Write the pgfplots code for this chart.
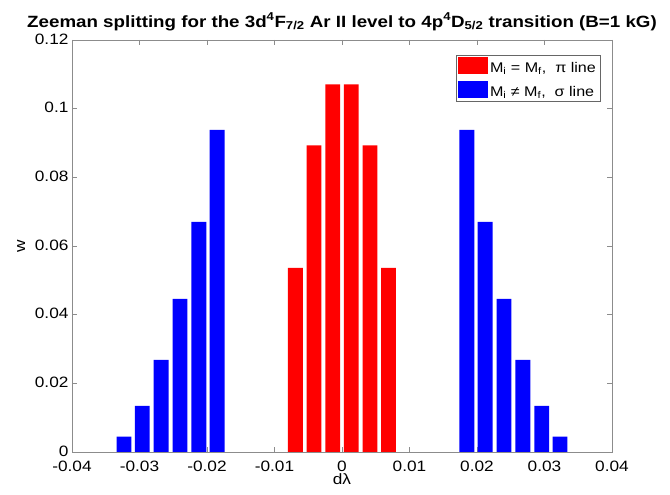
\documentclass[border=0pt]{standalone}
\usepackage{fontspec}
\setmainfont{Liberation Sans}[FakeStretch=1.15]
\usepackage{pgfplots}
\pgfplotsset{compat=1.18}
\definecolor{axgray}{RGB}{140,140,140}
\begin{document}
\begin{tikzpicture}[x=1pt,y=1pt]
\path[use as bounding box] (0,0) rectangle (670,495);
\begin{axis}[
	at={(72pt,43pt)}, anchor=south west,
	scale only axis, width=540pt, height=412pt,
	xmin=-0.04, xmax=0.04, ymin=0, ymax=0.12,
	xtick={-0.04,-0.03,-0.02,-0.01,0,0.01,0.02,0.03,0.04},
	ytick={0,0.02,0.04,0.06,0.08,0.1,0.12},
	scaled x ticks=false, scaled y ticks=false,
	/pgf/number format/.cd, fixed, precision=2, assume math mode=true, /pgfplots/.cd,
	tick label style={font=\fontsize{15}{17}\selectfont, black},
	xticklabel style={yshift=-5pt},
	yticklabel style={yshift=1pt},
	axis line style={axgray}, every tick/.style={axgray},
	major tick length=5pt, minor tick num=0,
	title={Zeeman splitting for the 3d\textsuperscript{4}F\textsubscript{7/2} Ar II level to 4p\textsuperscript{4}D\textsubscript{5/2} transition (B=1 kG)},
	title style={font=\bfseries\fontsize{16.3}{18}\selectfont, yshift=0pt},
	xlabel={dλ}, ylabel={w},
	label style={font=\fontsize{15}{17}\selectfont},
	xlabel style={yshift=4pt},
	ylabel style={yshift=3pt},
	legend style={at={(0.978,0.964)}, anchor=north east, draw=black!60,
		font=\fontsize{14}{17}\selectfont, inner sep=2pt,
		row sep=5pt},
	legend cell align=left,
	legend image code/.code={\fill[#1] (0pt,-6pt) rectangle (30pt,11pt);},
]
% pi lines, M_i = M_f
\addplot[ybar, bar shift=0pt, bar width=0.0022, fill=red, draw=none] coordinates {
	(-0.0069,0.0536) (-0.00414,0.0893) (-0.00138,0.1071)
	(0.00138,0.1071) (0.00414,0.0893) (0.0069,0.0536)
};
\addlegendentry{M\textsubscript{i} = M\textsubscript{f},\ \ π line}
% sigma lines, M_i != M_f
\addplot[ybar, bar shift=0pt, bar width=0.0022, fill=blue, draw=none] coordinates {
	(-0.0323,0.0045) (-0.0296,0.0134) (-0.0268,0.0268)
	(-0.0240,0.0446) (-0.0212,0.0670) (-0.0185,0.0938)
	(0.0185,0.0938) (0.0212,0.0670) (0.0240,0.0446)
	(0.0268,0.0268) (0.0296,0.0134) (0.0323,0.0045)
};
\addlegendentry{M\textsubscript{i} ≠ M\textsubscript{f},\ \ σ line}
\end{axis}
\end{tikzpicture}
\end{document}
